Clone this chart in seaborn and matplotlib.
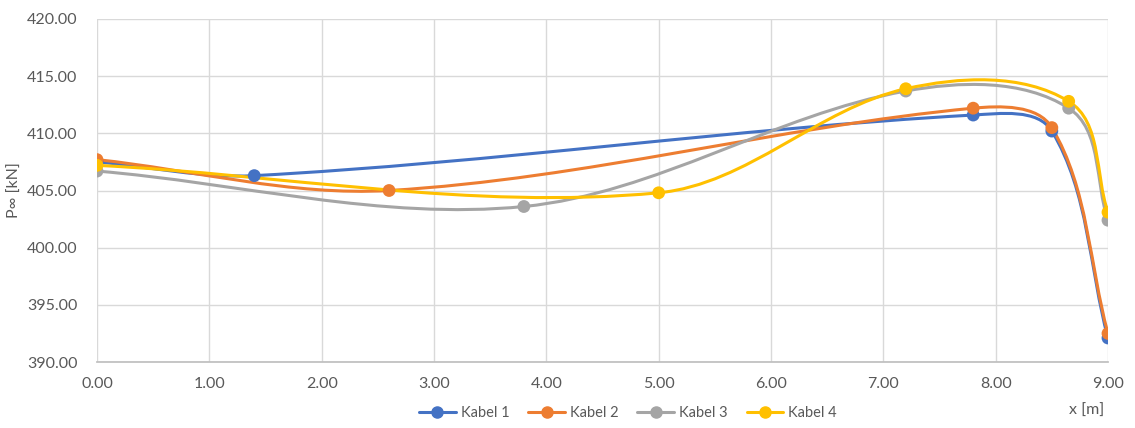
import numpy as np
import pandas as pd
import seaborn as sns
import matplotlib
matplotlib.use("Agg")
import matplotlib.pyplot as plt
from matplotlib.path import Path
from matplotlib.patches import PathPatch
from matplotlib.lines import Line2D
from matplotlib.ticker import FormatStrFormatter

# ---- data ----
series_names = ["Kabel 1", "Kabel 2", "Kabel 3", "Kabel 4"]
x_k1 = [0.0, 1.4, 7.8, 8.5, 9.0]
y_k1 = [407.5, 406.3, 411.6, 410.2, 392.1]
x_k2 = [0.0, 2.6, 7.8, 8.5, 9.0]
y_k2 = [407.7, 405.0, 412.2, 410.5, 392.5]
x_k3 = [0.0, 3.8, 7.2, 8.65, 9.0]
y_k3 = [406.7, 403.6, 413.7, 412.2, 402.4]
x_k4 = [0.0, 5.0, 7.2, 8.65, 9.0]
y_k4 = [407.2, 404.8, 413.9, 412.8, 403.1]
colors = ["#4472C4", "#ED7D31", "#A5A5A5", "#FFC000"]
x_ticks = [0, 1, 2, 3, 4, 5, 6, 7, 8, 9]
y_ticks = [390, 395, 400, 405, 410, 415, 420]

xs = [x_k1, x_k2, x_k3, x_k4]
ys = [y_k1, y_k2, y_k3, y_k4]

df = pd.concat([pd.DataFrame({"x": x, "y": y, "Kabel": n})
                for x, y, n in zip(xs, ys, series_names)], ignore_index=True)

sns.set_theme(style="white")
plt.rcParams["font.family"] = ["Lato", "DejaVu Sans"]

fig = plt.figure(figsize=(11.35, 4.28), dpi=100)
ax = fig.add_axes([97 / 1135, 1 - 362 / 428, (1108 - 97) / 1135, (362 - 19) / 428])
ax.set_xlim(0, 9)
ax.set_ylim(390, 420)

# scale factors so that smoothing is done in screen-like proportions
SX = 1011 / 9.0
SY = 343 / 30.0


def smooth_path(x, y):
    """Excel-like smoothed line: cubic Bezier segments through the points,
    with tangent handles scaled by the segment length (no loops)."""
    P = np.column_stack([np.asarray(x) * SX, np.asarray(y) * SY]).astype(float)
    n = len(P)
    T = []
    for i in range(n):
        a = P[max(i - 1, 0)]
        b = P[min(i + 1, n - 1)]
        d = b - a
        T.append(d / np.linalg.norm(d))
    verts = [P[0]]
    codes = [Path.MOVETO]
    for i in range(n - 1):
        L = np.linalg.norm(P[i + 1] - P[i])
        c1 = P[i] + T[i] * L / 3.0
        c2 = P[i + 1] - T[i + 1] * L / 3.0
        verts += [c1, c2, P[i + 1]]
        codes += [Path.CURVE4] * 3
    V = np.array(verts)
    V[:, 0] /= SX
    V[:, 1] /= SY
    return Path(V, codes)


for x, y, c in zip(xs, ys, colors):
    ax.add_patch(PathPatch(smooth_path(x, y), facecolor="none", edgecolor=c,
                           lw=2.2, capstyle="round", joinstyle="round", zorder=3))

sns.scatterplot(data=df, x="x", y="y", hue="Kabel", palette=colors, s=85,
                edgecolor="none", ax=ax, legend=False, zorder=4)

ax.set_xlim(0, 9)
ax.set_ylim(390, 420)
ax.set_xticks(x_ticks)
ax.set_yticks(y_ticks)
ax.xaxis.set_major_formatter(FormatStrFormatter("%.2f"))
ax.yaxis.set_major_formatter(FormatStrFormatter("%.2f"))
ax.grid(True, color="#D9D9D9", lw=1)
ax.set_axisbelow(True)
for s in ax.spines.values():
    s.set_visible(False)
ax.spines["bottom"].set_visible(True)
ax.spines["bottom"].set_color("#BFBFBF")
ax.tick_params(axis="both", length=0, labelsize=11.5, colors="#595959")
ax.tick_params(axis="x", pad=11)
ax.tick_params(axis="y", pad=14)
ax.set_xlabel("")
ax.set_ylabel("P∞ [kN]", fontsize=11.5, color="#595959")
ax.yaxis.set_label_coords((22 - 97) / 1011, 0.5)
fig.text(1087 / 1135, 1 - 411 / 428, "x [m]", fontsize=11.5, color="#595959",
         ha="center", va="center")

handles = [Line2D([0], [0], color=c, lw=2.2, marker="o", markersize=8)
           for c in colors]
leg = fig.legend(handles, series_names, loc="center", ncol=4, frameon=False,
                 bbox_to_anchor=(628 / 1135, 1 - 413 / 428), fontsize=10.5,
                 handlelength=2.5, columnspacing=1.3, handletextpad=0.35)
for t in leg.get_texts():
    t.set_color("#595959")

fig.savefig("out.png", dpi=100)
